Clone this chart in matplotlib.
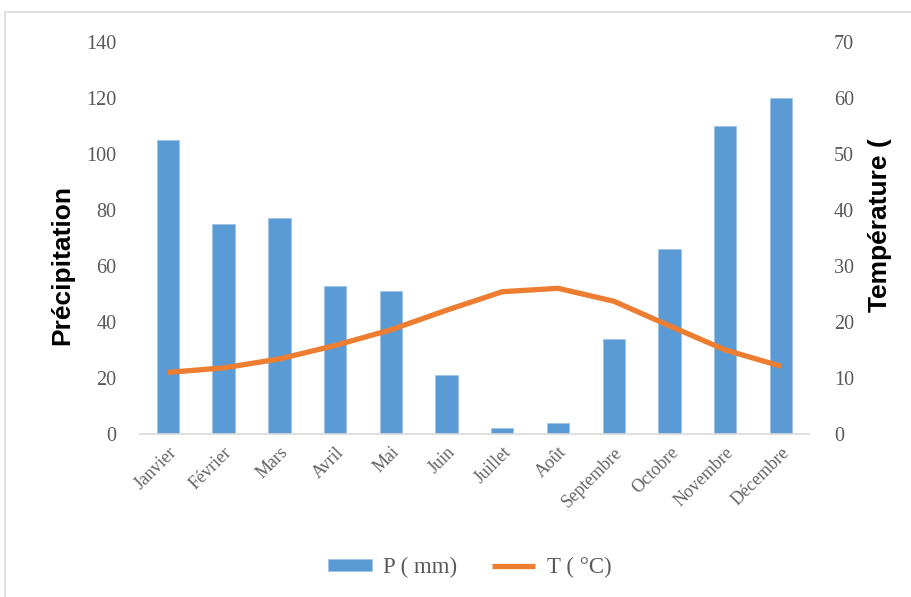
import matplotlib
matplotlib.use("Agg")
from matplotlib import pyplot as plt
from matplotlib.patches import Rectangle
import numpy as np

mois = ["Janvier", "Février", "Mars", "Avril", "Mai", "Juin", "Juillet",
        "Août", "Septembre", "Octobre", "Novembre", "Décembre"]
precip = [105, 75, 77, 53, 51, 21, 2, 4, 34, 66, 110, 120]
temp = [11, 11.8, 13.4, 15.8, 18.6, 22.1, 25.4, 26.0, 23.7, 19.3, 15.0, 12.1]

bleu = "#5B9BD5"
orange = "#ED7D31"
gris = "#595959"
serif = ["Liberation Serif", "DejaVu Serif"]
sans = ["Liberation Sans", "DejaVu Sans"]

fig = plt.figure(figsize=(9.12, 5.97), dpi=100)
ax = fig.add_axes([0.1535, 0.273, 0.7335, 0.657])
ax2 = ax.twinx()

x = np.arange(len(mois))
barres = ax.bar(x, precip, width=0.4, color=bleu, edgecolor="#9DC3E6",
                linewidth=0.6, label="P ( mm)", zorder=2)
ligne, = ax2.plot(x, temp, color=orange, linewidth=3.8,
                  solid_joinstyle="round", solid_capstyle="butt",
                  label="T ( °C)", zorder=3)

ax.set_xlim(-0.5, len(mois) - 0.5)
ax.set_ylim(0, 140)
ax2.set_ylim(0, 70)
ax.set_yticks(range(0, 141, 20))
ax2.set_yticks(range(0, 71, 10))

ax.set_xticks(x)
ax.set_xticklabels(mois, rotation=45, ha="right", va="top",
                   rotation_mode="anchor", family=serif, fontsize=13, color="#666666")
for lab in ax.get_yticklabels():
    lab.set_family(serif)
for lab in ax2.get_yticklabels():
    lab.set_family(serif)
ax.tick_params(axis="y", length=0, pad=17, labelsize=14.5, labelcolor=gris)
ax2.tick_params(axis="y", length=0, pad=18, labelsize=14.5, labelcolor=gris)
ax.tick_params(axis="x", length=0, pad=7)

for a in (ax, ax2):
    for s in ("top", "left", "right"):
        a.spines[s].set_visible(False)
    a.spines["bottom"].set_color("#D9D9D9")
    a.spines["bottom"].set_linewidth(1.2)
ax2.spines["bottom"].set_visible(False)

ax.set_ylabel("Précipitation", family=sans, fontweight="bold",
              fontsize=19, color="black")
ax2.set_ylabel("Température (", family=sans, fontweight="bold",
               fontsize=19, color="black")
ax.yaxis.set_label_coords(-0.099, 0.431)
ax2.yaxis.set_label_coords(1.088, 0.533)

fig.legend([barres, ligne], ["P ( mm)", "T ( °C)"], loc="center",
           bbox_to_anchor=(0.515, 0.049), ncol=2, frameon=False,
           prop={"family": serif, "size": 16.5}, labelcolor=gris,
           handlelength=1.9, handleheight=0.45, columnspacing=1.5,
           handletextpad=0.5)

# cadre gris autour du graphique
fig.patches.append(Rectangle((5 / 912, -0.2), 1.2, 0.2 + 1 - 12 / 597,
                             transform=fig.transFigure, fill=False,
                             edgecolor="#D9D9D9", linewidth=1.2))

fig.savefig("out.png", dpi=100)
